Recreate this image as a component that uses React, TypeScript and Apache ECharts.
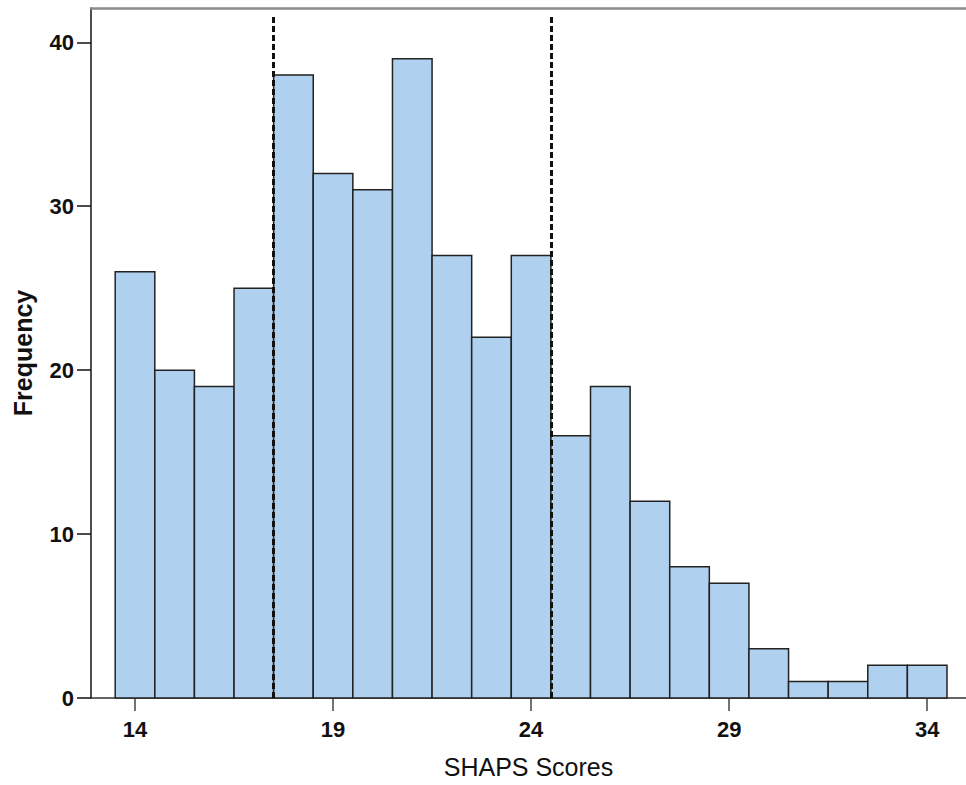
import React, { useEffect, useRef } from "react";
import * as echarts from "echarts";

const scores = [14, 15, 16, 17, 18, 19, 20, 21, 22, 23, 24, 25, 26, 27, 28, 29, 30, 31, 32, 33, 34];
const frequencies = [26, 20, 19, 25, 38, 32, 31, 39, 27, 22, 27, 16, 19, 12, 8, 7, 3, 1, 1, 2, 2];
const xTickValues = [14, 19, 24, 29, 34];
const yTickValues = [0, 10, 20, 30, 40];
const cutoffs = [17.5, 24.5];

export default function App() {
  const ref = useRef<HTMLDivElement>(null);
  useEffect(() => {
    if (!ref.current) return;
    const chart = echarts.init(ref.current, null, { renderer: "svg" });
    const font = "Liberation Sans, Arial, sans-serif";
    const data = scores.map((s, i) => [s, frequencies[i]]);
    const xMin = 12.889;
    const xMax = 34.98;
    chart.setOption({
      animation: false,
      backgroundColor: "#ffffff",
      grid: { left: 91, right: 0, top: 8, bottom: 87 },
      xAxis: [
        {
          type: "value",
          min: xMin,
          max: xMax,
          name: "SHAPS Scores",
          nameLocation: "middle",
          nameGap: 56,
          nameTextStyle: { fontFamily: font, fontSize: 25, color: "#111" },
          splitLine: { show: false },
          axisLine: { show: true, lineStyle: { color: "#333", width: 1.5 } },
          axisTick: { show: true, length: 13, customValues: xTickValues, lineStyle: { color: "#444", width: 1.5 } },
          axisLabel: {
            customValues: xTickValues,
            margin: 20,
            fontFamily: font,
            fontSize: 22,
            fontWeight: "bold",
            color: "#111",
          },
        },
        {
          type: "value",
          position: "top",
          min: xMin,
          max: xMax,
          splitLine: { show: false },
          axisLine: { show: true, lineStyle: { color: "#8a8a8a", width: 2.5 } },
          axisTick: { show: false },
          axisLabel: { show: false },
        },
      ],
      yAxis: {
        type: "value",
        min: 0,
        max: 42.09,
        name: "Frequency",
        nameLocation: "middle",
        nameGap: 56,
        nameTextStyle: { fontFamily: font, fontSize: 25, fontWeight: "bold", color: "#111" },
        splitLine: { show: false },
        axisLine: { show: true, lineStyle: { color: "#111", width: 1.5 } },
        axisTick: { show: true, length: 14, customValues: yTickValues, lineStyle: { color: "#111", width: 1.5 } },
        axisLabel: {
          customValues: yTickValues,
          margin: 17,
          fontFamily: font,
          fontSize: 22,
          fontWeight: "bold",
          color: "#111",
        },
      },
      series: [
        {
          type: "custom",
          xAxisIndex: 0,
          data,
          renderItem: (params: any, api: any) => {
            const x = api.value(0);
            const y = api.value(1);
            const p0 = api.coord([x - 0.5, y]);
            const p1 = api.coord([x + 0.5, 0]);
            return {
              type: "rect",
              shape: { x: p0[0], y: p0[1], width: p1[0] - p0[0], height: p1[1] - p0[1] },
              style: { fill: "#afd0ee", stroke: "#222", lineWidth: 1.5 },
            };
          },
          markLine: {
            silent: true,
            symbol: "none",
            label: { show: false },
            lineStyle: { color: "#111", type: [6, 3], width: 3 },
            data: cutoffs.map((c) => [{ coord: [c, 0] }, { coord: [c, 41.6] }]),
          },
          z: 2,
        },
      ],
    });
    return () => chart.dispose();
  }, []);
  return (
    <div
      ref={ref}
      style={{ position: "fixed", left: 0, top: 0, width: 966, height: 785 }}
    />
  );
}
